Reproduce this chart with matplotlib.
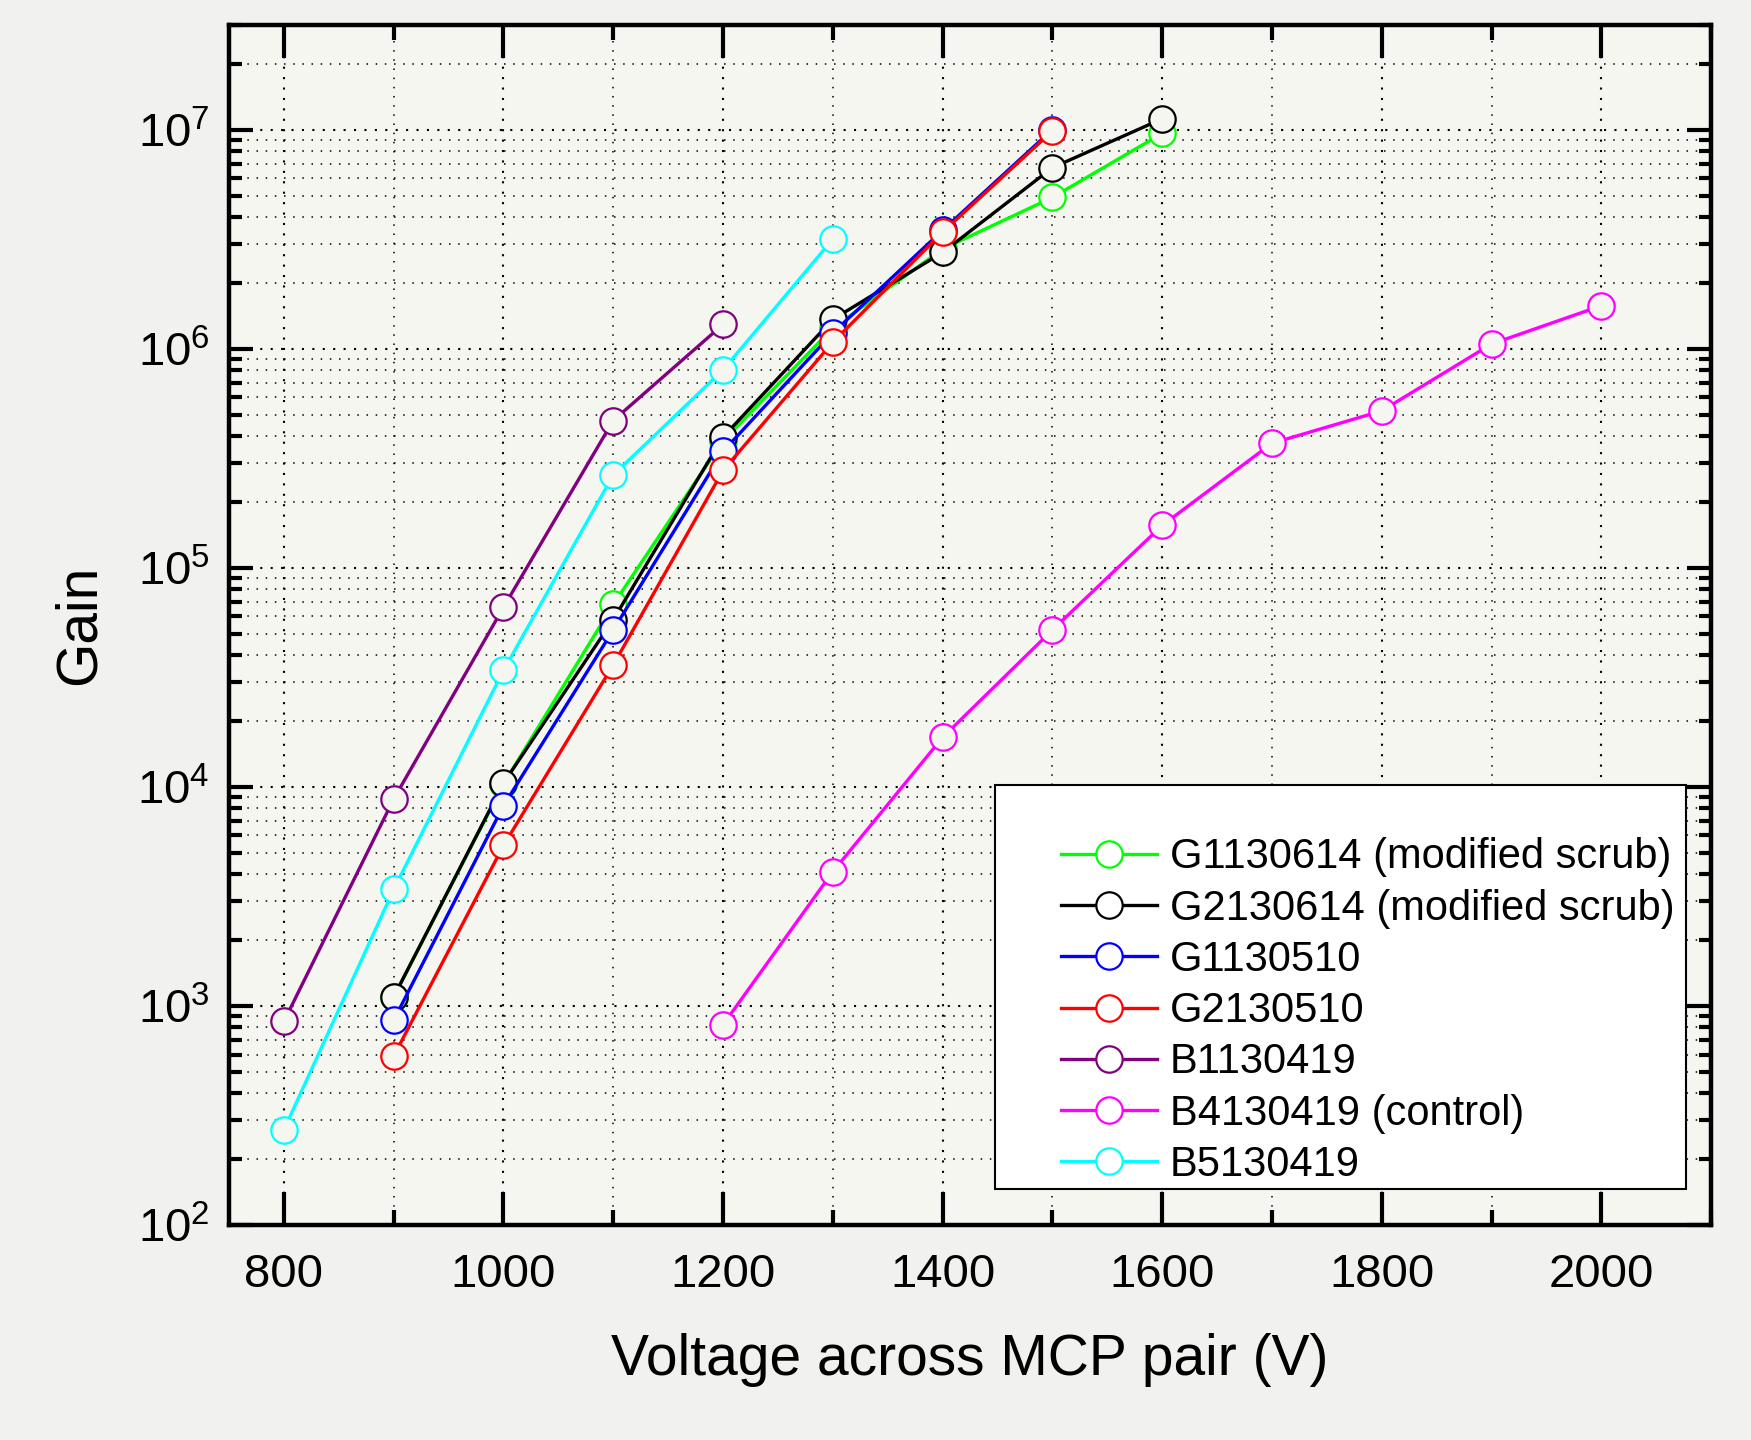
import numpy as np
import matplotlib
matplotlib.use('Agg')
import matplotlib.pyplot as plt
from matplotlib.patches import Rectangle
from matplotlib.ticker import LogLocator, MultipleLocator, NullFormatter

plt.rcParams['font.family'] = ['Liberation Sans', 'DejaVu Sans']
plt.rcParams['mathtext.fontset'] = 'custom'
plt.rcParams['mathtext.rm'] = 'Liberation Sans'
plt.rcParams['mathtext.it'] = 'Liberation Sans:italic'

# gain curves (voltage in V, gain)
v_g1_0614 = [900, 1000, 1100, 1200, 1300, 1400, 1500, 1600]
gain_g1_0614 = [1.1e3, 1.03e4, 6.8e4, 3.8e5, 1.24e6, 2.85e6, 4.9e6, 9.6e6]

v_g2_0614 = [900, 1000, 1100, 1200, 1300, 1400, 1500, 1600]
gain_g2_0614 = [1.1e3, 1.04e4, 5.8e4, 3.95e5, 1.36e6, 2.75e6, 6.7e6, 1.12e7]

v_g1_0510 = [900, 1000, 1100, 1200, 1300, 1400, 1500]
gain_g1_0510 = [8.6e2, 8.2e3, 5.2e4, 3.4e5, 1.18e6, 3.47e6, 1.0e7]

v_g2_0510 = [900, 1000, 1100, 1200, 1300, 1400, 1500]
gain_g2_0510 = [5.9e2, 5.4e3, 3.6e4, 2.78e5, 1.07e6, 3.4e6, 9.85e6]

v_b1_0419 = [800, 900, 1000, 1100, 1200]
gain_b1_0419 = [8.5e2, 8.8e3, 6.6e4, 4.7e5, 1.29e6]

v_b4_0419 = [1200, 1300, 1400, 1500, 1600, 1700, 1800, 1900, 2000]
gain_b4_0419 = [8.2e2, 4.1e3, 1.68e4, 5.2e4, 1.56e5, 3.7e5, 5.2e5, 1.05e6, 1.57e6]

v_b5_0419 = [800, 900, 1000, 1100, 1200, 1300]
gain_b5_0419 = [2.72e2, 3.4e3, 3.4e4, 2.65e5, 8.0e5, 3.16e6]

labels = ['G1130614 (modified scrub)', 'G2130614 (modified scrub)', 'G1130510',
          'G2130510', 'B1130419', 'B4130419 (control)', 'B5130419']
colors = ['#00ff00', '#000000', '#0000ff', '#ff0000', '#800080', '#ff00ff', '#00ffff']
volts = [v_g1_0614, v_g2_0614, v_g1_0510, v_g2_0510, v_b1_0419, v_b4_0419, v_b5_0419]
gains = [gain_g1_0614, gain_g2_0614, gain_g1_0510, gain_g2_0510, gain_b1_0419, gain_b4_0419, gain_b5_0419]

xticks = [800, 1000, 1200, 1400, 1600, 1800, 2000]
yticks = [1e2, 1e3, 1e4, 1e5, 1e6, 1e7]

bg = '#f6f6f1'
fig = plt.figure(figsize=(17.51, 14.40), dpi=100)
fig.patch.set_facecolor('#f1f1ef')
ax = fig.add_axes([0.1308, 0.1493, 0.8464, 0.8333])
ax.set_facecolor(bg)

for v, g, c, lab in zip(volts, gains, colors, labels):
    ax.plot(v, g, '-o', color=c, lw=2.4, ms=19, mew=1.6, mfc=bg, mec=c, label=lab)

ax.set_yscale('log')
ax.set_xlim(750, 2100)
ax.set_ylim(1e2, 3e7)
ax.set_xticks(xticks)
ax.xaxis.set_minor_locator(MultipleLocator(100))
ax.set_yticks(yticks)
ax.yaxis.set_minor_locator(LogLocator(base=10, subs=np.arange(2, 10)))
ax.yaxis.set_minor_formatter(NullFormatter())

ax.grid(True, which='major', ls=(0, (1, 4)), color='k', lw=1.5)
ax.grid(True, which='minor', ls=(0, (1, 5)), color='k', lw=1.1)

ax.tick_params(which='both', direction='in', top=True, right=True, width=3.0, colors='k')
ax.tick_params(axis='x', which='major', length=24, pad=20, labelsize=34)
ax.tick_params(axis='x', which='minor', length=11)
ax.tick_params(axis='y', which='major', length=17, pad=14, labelsize=34)
ax.tick_params(axis='y', which='minor', length=9)
for s in ax.spines.values():
    s.set_linewidth(3.2)

ax.set_xlabel('Voltage across MCP pair (V)', fontsize=41, labelpad=26)
ax.set_ylabel('Gain', fontsize=41, labelpad=22)

# legend box is wider than its entries, so draw it separately
ax.add_patch(Rectangle((0.517, 0.03), 0.466, 0.337, transform=ax.transAxes,
                       facecolor='white', edgecolor='k', lw=1.5, zorder=4.5))
leg = ax.legend(loc='lower right', bbox_to_anchor=(0.978, 0.03), borderaxespad=0,
                fontsize=30, title=' ', title_fontsize=24, frameon=False,
                handlelength=2.3, handletextpad=0.3, labelspacing=0.27, borderpad=0.1)
leg.set_zorder(5)
for h in leg.legend_handles:
    h.set_markerfacecolor('white')

fig.savefig('out.png', dpi=100, facecolor=fig.get_facecolor())
